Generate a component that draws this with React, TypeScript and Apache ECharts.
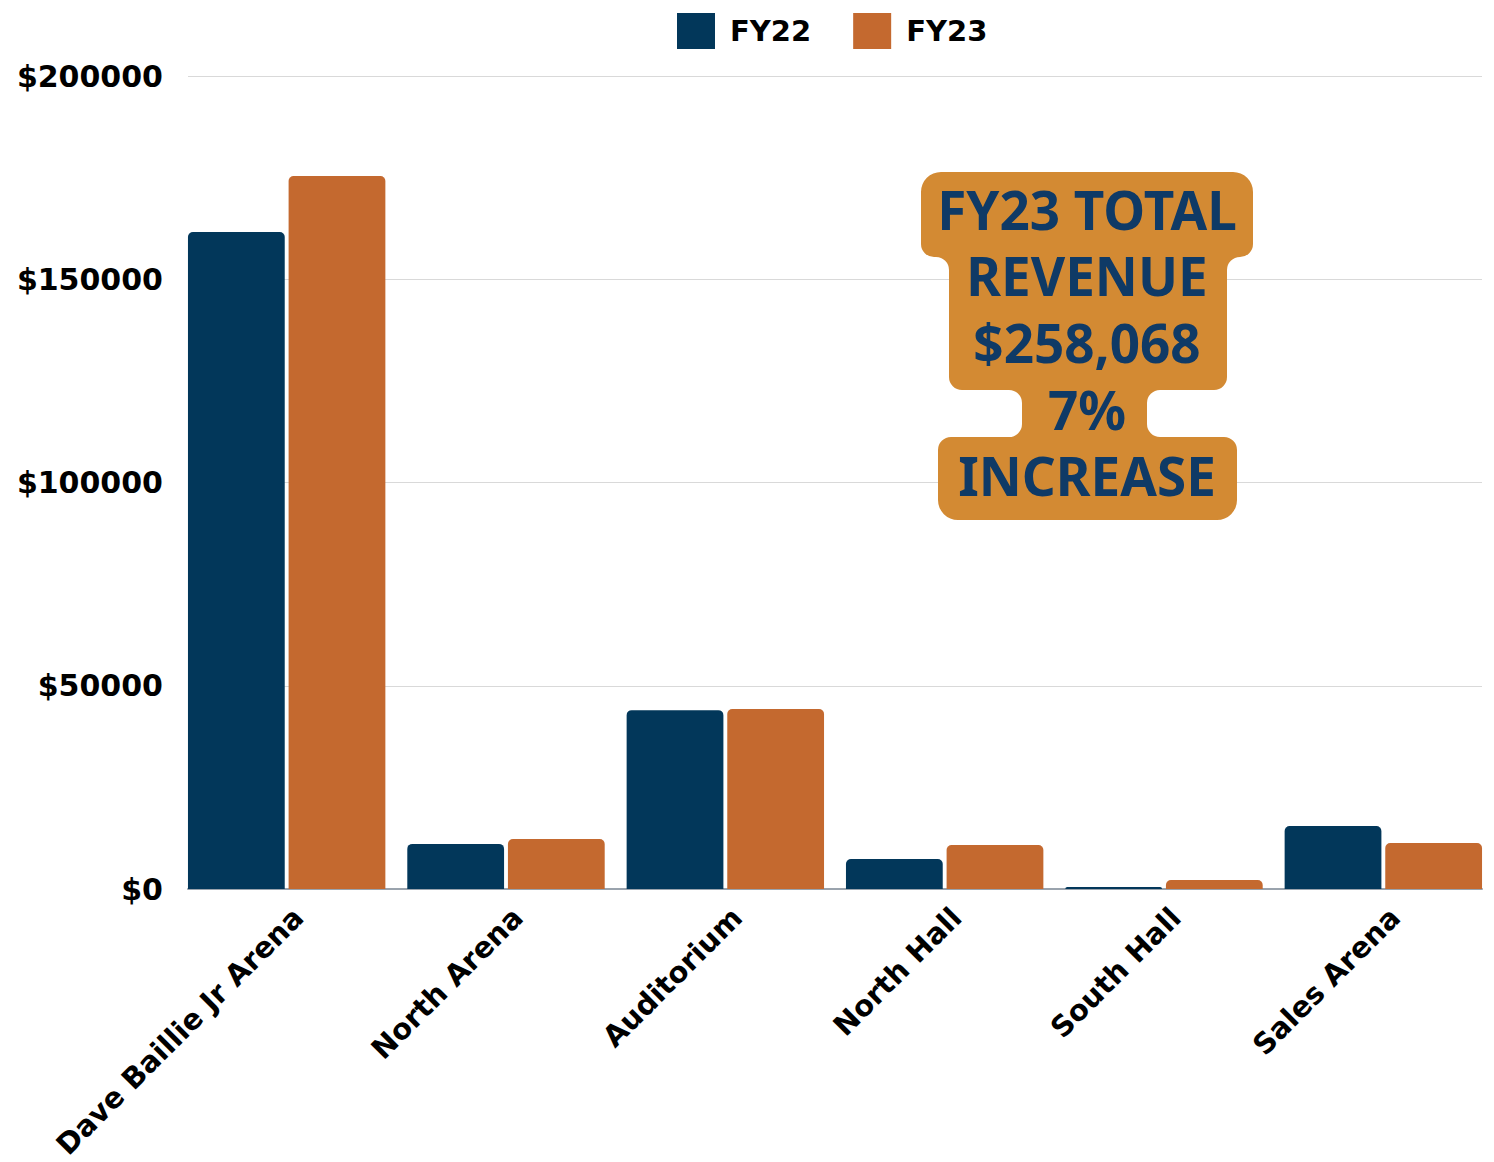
import React, { useEffect, useRef } from "react";
import * as echarts from "echarts";

const categories = ["Dave Baillie Jr Arena", "North Arena", "Auditorium", "North Hall", "South Hall", "Sales Arena"];
const fy22 = [161600, 11100, 44000, 7400, 500, 15500];
const fy23 = [175400, 12300, 44300, 10800, 2200, 11300];
const seriesNames = ["FY22", "FY23"];
const annotationLines = ["FY23 TOTAL", "REVENUE", "$258,068", "7%", "INCREASE"];

const NAVY = "#02375A";
const ORANGE = "#C4692F";
const BADGE = "#D38A33";
const BADGE_TEXT = "#0F3A66";
const FONT = "DejaVu Sans";

function badgePath(): string {
  const R = 20, s = 13;
  const p: string[] = [];
  p.push(`M ${921 + R} 172`);
  p.push(`H ${1253 - R} A ${R} ${R} 0 0 1 1253 ${172 + R}`);
  p.push(`V ${257 - s} A ${s} ${s} 0 0 1 ${1253 - s} 257`);
  p.push(`H ${1227 + s} A ${s} ${s} 0 0 0 1227 ${257 + s}`);
  p.push(`V ${390 - s} A ${s} ${s} 0 0 1 ${1227 - s} 390`);
  p.push(`H ${1147 + s} A ${s} ${s} 0 0 0 1147 ${390 + s}`);
  p.push(`V ${437 - s} A ${s} ${s} 0 0 0 ${1147 + s} 437`);
  p.push(`H ${1237 - s} A ${s} ${s} 0 0 1 1237 ${437 + s}`);
  p.push(`V ${520 - R} A ${R} ${R} 0 0 1 ${1237 - R} 520`);
  p.push(`H ${938 + R} A ${R} ${R} 0 0 1 938 ${520 - R}`);
  p.push(`V ${437 + s} A ${s} ${s} 0 0 1 ${938 + s} 437`);
  p.push(`H ${1022 - s} A ${s} ${s} 0 0 0 1022 ${437 - s}`);
  p.push(`V ${390 + s} A ${s} ${s} 0 0 0 ${1022 - s} 390`);
  p.push(`H ${949 + s} A ${s} ${s} 0 0 1 949 ${390 - s}`);
  p.push(`V ${257 + s} A ${s} ${s} 0 0 0 ${949 - s} 257`);
  p.push(`H ${921 + s} A ${s} ${s} 0 0 1 921 ${257 - s}`);
  p.push(`V ${172 + R} A ${R} ${R} 0 0 1 ${921 + R} 172 Z`);
  return p.join(" ");
}

let registered = false;

export default function App() {
  const ref = useRef<HTMLDivElement>(null);
  useEffect(() => {
    document.body.style.margin = "0";
    if (!registered) {
      echarts.graphic.registerShape("badge", echarts.graphic.extendPath(badgePath(), {}) as any);
      registered = true;
    }
    const chart = echarts.init(ref.current!, undefined, { renderer: "svg" });
    const lineY = [209, 275, 342, 409, 475];
    chart.setOption({
      animation: false,
      backgroundColor: "#ffffff",
      legend: {
        data: seriesNames,
        left: 672,
        top: 8,
        icon: "rect",
        itemWidth: 38,
        itemHeight: 36,
        itemGap: 42,
        textStyle: { fontFamily: FONT, fontWeight: "bold", fontSize: 29, color: "#000", padding: [0, 0, 0, 10] },
      },
      grid: [
        { left: 188, right: 12, top: 76, bottom: 273, outerBoundsMode: "none", containLabel: false },
        { left: 177, right: 1, top: 76, bottom: 273, outerBoundsMode: "none", containLabel: false },
      ],
      xAxis: [
        {
          type: "category",
          gridIndex: 0,
          data: categories,
          axisLine: { show: true, lineStyle: { color: "#9AA3AD", width: 2 } },
          axisTick: { show: false },
          axisLabel: { show: false },
        },
        {
          type: "category",
          gridIndex: 1,
          data: categories,
          axisLine: { show: false },
          axisTick: { show: false },
          axisLabel: {
            rotate: 45,
            interval: 0,
            margin: 12,
            verticalAlign: "top",
            padding: [2, 0, 0, 0],
            fontFamily: FONT,
            fontWeight: "bold",
            fontSize: 29,
            color: "#000",
          },
        },
      ],
      yAxis: [
        {
          type: "value",
          gridIndex: 0,
          min: 0,
          max: 200000,
          interval: 50000,
          axisLine: { show: false },
          axisTick: { show: false },
          splitLine: { lineStyle: { color: "#D9D9D9", width: 1 } },
          axisLabel: {
            margin: 25,
            fontFamily: FONT,
            fontWeight: "bold",
            fontSize: 30,
            color: "#000",
            formatter: (v: number) => "$" + v,
          },
        },
        {
          type: "value",
          gridIndex: 1,
          min: 0,
          max: 200000,
          interval: 50000,
          show: false,
          splitLine: { show: false },
        },
      ],
      series: [
        {
          name: seriesNames[0],
          type: "bar",
          xAxisIndex: 1,
          yAxisIndex: 1,
          data: fy22,
          barCategoryGap: "10%",
          barGap: "4%",
          itemStyle: { color: NAVY, borderRadius: [5, 5, 0, 0] },
        },
        {
          name: seriesNames[1],
          type: "bar",
          xAxisIndex: 1,
          yAxisIndex: 1,
          data: fy23,
          barCategoryGap: "10%",
          barGap: "4%",
          itemStyle: { color: ORANGE, borderRadius: [5, 5, 0, 0] },
        },
      ],
      graphic: [
        { type: "badge", x: 0, y: 0, z: 100, style: { fill: BADGE } } as any,
        ...annotationLines.map((t, i) => ({
          type: "text",
          z: 101,
          x: 1087,
          y: lineY[i],
          style: {
            text: t,
            fill: BADGE_TEXT,
            font: `bold 53px "Noto Sans"`,
            textAlign: "center",
            textVerticalAlign: "middle",
          },
        })),
      ],
    });
    return () => chart.dispose();
  }, []);
  return <div ref={ref} style={{ width: 1494, height: 1162 }} />;
}
